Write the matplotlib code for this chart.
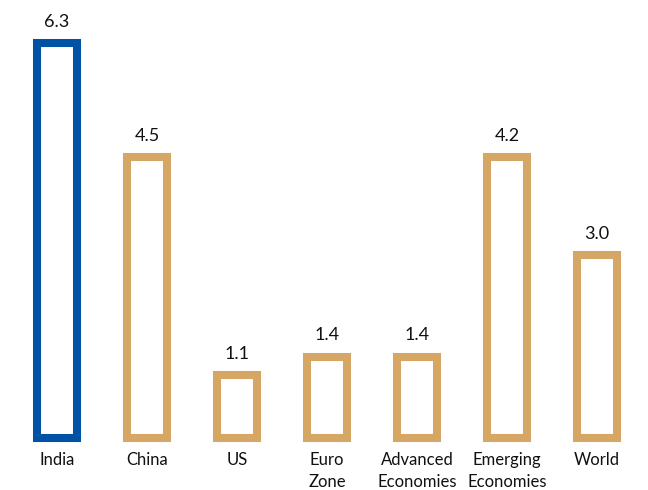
import matplotlib.pyplot as plt

categories = ["India", "China", "US", "Euro\nZone", "Advanced\nEconomies", "Emerging\nEconomies", "World"]
# bar heights as drawn in the source chart (labels printed separately)
heights = [6.3, 4.48, 1.0, 1.3, 1.3, 4.48, 2.92]
value_labels = ["6.3", "4.5", "1.1", "1.4", "1.4", "4.2", "3.0"]

blue = "#0052A5"
tan = "#D6A764"
colors = [blue] + [tan] * (len(categories) - 1)

plt.rcParams["font.family"] = ["Lato", "DejaVu Sans"]

fig = plt.figure(figsize=(6.48, 4.9), dpi=100)
ax = fig.add_axes([0.0185, 0.106, 0.972, 0.894])

x = range(len(categories))
bars = ax.bar(x, heights, width=0.44, facecolor="none", edgecolor=colors,
              linewidth=5.8, joinstyle="miter")
for b in bars:
    b.set_clip_on(False)

for xi, h, lab in zip(x, heights, value_labels):
    ax.annotate(lab, (xi, h), xytext=(0, 9.5), textcoords="offset points",
                ha="center", va="bottom", fontsize=13, color="#111111")

ax.set_xlim(-0.5, len(categories) - 0.5)
ax.set_ylim(0, 6.99)
ax.set_xticks(list(x))
ax.set_xticklabels(categories, fontsize=12, color="#111111", linespacing=1.45)
ax.tick_params(axis="x", length=0, pad=10)
ax.set_yticks([])
for s in ax.spines.values():
    s.set_visible(False)

fig.savefig("out.png", dpi=100)
